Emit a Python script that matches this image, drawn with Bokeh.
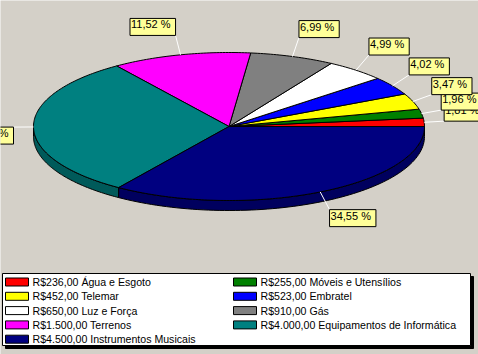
import numpy as np
from bokeh.plotting import figure
from bokeh.models import Range1d
from bokeh.embed import file_html
from bokeh.resources import INLINE
from bokeh.core.properties import value

# ---- data ----
categories = ["Água e Esgoto", "Móveis e Utensílios", "Telemar", "Embratel",
              "Luz e Força", "Gás", "Terrenos", "Equipamentos de Informática",
              "Instrumentos Musicais"]
values = [236, 255, 452, 523, 650, 910, 1500, 4000, 4500]
money_labels = ["R$236,00", "R$255,00", "R$452,00", "R$523,00", "R$650,00",
                "R$910,00", "R$1.500,00", "R$4.000,00", "R$4.500,00"]
colors = ["#FF0000", "#008000", "#FFFF00", "#0000FF", "#FFFFFF",
          "#808080", "#FF00FF", "#008080", "#000080"]
side_colors = ["#B00000", "#005800", "#B0B000", "#0000B0", "#B0B0B0",
               "#585858", "#B000B0", "#005A5A", "#00005E"]

# ---- layout ----
W, H = 478, 354
BG = "#D4D0C8"
cx, cy, rx, ry, depth = 228.5, 126.0, 195.5, 74.0, 10.0
arrow = 20.0
FONT = "Liberation Sans"

p = figure(width=W, height=H, output_backend="svg", toolbar_location=None,
           x_range=Range1d(0, W), y_range=Range1d(H, 0), min_border=0)
p.axis.visible = False
p.grid.visible = False
p.outline_line_color = None
p.background_fill_color = BG
p.border_fill_color = BG

total = float(sum(values))
fracs = [v / total for v in values]
cum = np.concatenate([[0.0], np.cumsum(fracs)])
angles = cum * 360.0


def pt(a_deg, rxx, ryy, dy=0.0):
    a = np.radians(a_deg)
    return cx + rxx * np.cos(a), cy - ryy * np.sin(a) + dy


# sides (front half 180..360)
sx, sy, sc = [], [], []
for i in range(len(values)):
    a0, a1 = angles[i], angles[i + 1]
    s, e = max(a0, 180.0), min(a1, 360.0)
    if e <= s:
        continue
    t = np.linspace(s, e, 80)
    xt, yt = pt(t, rx, ry)
    xb, yb = pt(t[::-1], rx, ry, depth)
    sx.append(list(xt) + list(xb))
    sy.append(list(yt) + list(yb))
    sc.append(side_colors[i])
p.patches(sx, sy, fill_color=sc, line_color="black", line_width=1)

# tops
tx, ty = [], []
for i in range(len(values)):
    t = np.linspace(angles[i], angles[i + 1], max(4, int(fracs[i] * 400)))
    xa, ya = pt(t, rx, ry)
    tx.append([cx] + list(xa))
    ty.append([cy] + list(ya))
p.patches(tx, ty, fill_color=colors, line_color="black", line_width=1)

# labels with connectors
pct_labels = [("%.2f" % (f * 100)).replace(".", ",") + " %" for f in fracs]
mids = (angles[:-1] + angles[1:]) / 2.0
for i in range(len(values)):
    x0, y0 = pt(mids[i], rx, ry)
    x1, y1 = pt(mids[i], rx + arrow, ry + arrow)
    p.line([x0, x1], [y0, y1], line_color="white", line_width=1)
for i in range(len(values)):
    x1, y1 = pt(mids[i], rx + arrow, ry + arrow)
    c, s = np.cos(np.radians(mids[i])), np.sin(np.radians(mids[i]))
    vert = "bottom" if s > 0 else "top"
    hor = "left" if c > 0 else "right"
    p.text([x1], [y1], text=[pct_labels[i]], anchor=vert + "_" + hor,
           text_font=value(FONT), text_font_size="11px", text_color="black",
           background_fill_color="#FFFF99", border_line_color="black",
           border_line_width=1, padding=(1, 5, 0, 5))

# legend
lx0, ly0, lx1, ly1 = 2, 273, 470, 345
p.quad(left=[lx0 + 3], right=[lx1 + 3], top=[ly0 + 3], bottom=[ly1 + 3],
       fill_color="black", line_color="black")
p.quad(left=[lx0], right=[lx1], top=[ly0], bottom=[ly1],
       fill_color="white", line_color="black", line_width=1)
row_h = 14.3
for i in range(len(values)):
    col, row = i % 2, i // 2
    x = 5 if col == 0 else 233
    y = 281.5 + row * row_h
    p.quad(left=[x], right=[x + 23], top=[y - 4], bottom=[y + 4],
           fill_color=colors[i], line_color="black", line_width=1)
    p.text([x + 27], [y], text=[money_labels[i] + " " + categories[i]],
           text_font=value(FONT), text_font_size="10.6px", text_color="black",
           text_baseline="middle", text_align="left")

open("out.html", "w").write(file_html(p, INLINE))
